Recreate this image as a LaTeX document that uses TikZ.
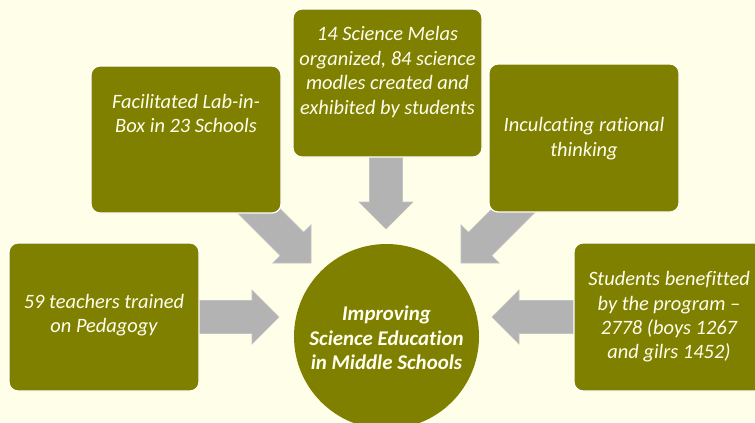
\documentclass[tikz,border=0pt]{standalone}
\usepackage{fontspec}
\setmainfont{Carlito}[Ligatures=CommonOff]
\usetikzlibrary{calc}
\definecolor{bgc}{RGB}{255,255,233}
\definecolor{olivec}{RGB}{128,128,0}
\definecolor{arrc}{RGB}{179,179,179}
\definecolor{txtc}{RGB}{255,255,240}
\tikzset{
  infobox/.style={fill=olivec,draw=white,line width=1.2bp,rounded corners=9bp},
  infotext/.style={text=txtc,align=center,font=\fontsize{20.5}{24.5}\selectfont\itshape,inner sep=0pt},
  hubtext/.style={text=txtc,align=center,font=\fontsize{21}{24.5}\selectfont\bfseries\itshape,inner sep=0pt},
  blockarrow/.style={fill=arrc,draw=arrc!80!white,line width=0.6bp}
}
\newcommand\blockarr[2]{%
  \path[blockarrow]
    ($(#1)!16.5bp!90:(#2)$) --
    ($($(#2)!27bp!(#1)$)!16.5bp!90:(#2)$) --
    ($($(#2)!27bp!(#1)$)!27bp!90:(#2)$) --
    (#2) --
    ($($(#2)!27bp!(#1)$)!27bp!-90:(#2)$) --
    ($($(#2)!27bp!(#1)$)!16.5bp!-90:(#2)$) --
    ($(#1)!16.5bp!-90:(#2)$) -- cycle;}
\begin{document}
\begin{tikzpicture}[x=1bp,y=-1bp]
\useasboundingbox (0,0) rectangle (755,422);
\clip (0,0) rectangle (755,422);
\fill[bgc] (0,0) rectangle (755,422);
% arrow coordinates
\coordinate (t1) at (230,182);
\coordinate (p1) at (311,263);
\coordinate (t2) at (386,157);
\coordinate (p2) at (386,229);
\coordinate (t3) at (542,182);
\coordinate (p3) at (461,263);
\coordinate (t4) at (199,317);
\coordinate (p4) at (279,317);
\coordinate (t5) at (574,317);
\coordinate (p5) at (492,317);
\blockarr{t1}{p1}
\blockarr{t2}{p2}
\blockarr{t3}{p3}
\blockarr{t4}{p4}
\blockarr{t5}{p5}
% boxes
\draw[infobox] (91,66) rectangle (281,213);
\draw[infobox] (293,9) rectangle (482,157);
\draw[infobox] (489,64) rectangle (679,212);
\draw[infobox] (9,243) rectangle (199,391);
\draw[infobox] (574,243) rectangle (764,391);
\node[circle,fill=olivec,minimum size=185bp,inner sep=0pt] (hub) at (386.5,336.5) {};
% texts
\node[infotext] (lab) at (186,113.5) {Facilitated Lab-in-\\Box in 23 Schools};
\node[infotext] (mela) at (387.5,72) {14 Science Melas\\organized, 84 science\\modles created and\\exhibited by students};
\node[infotext] (rat) at (584,138.5) {Inculcating rational\\thinking};
\node[infotext] (ped) at (104,315) {59 teachers trained\\on Pedagogy};
\node[infotext] (stu) at (669,317) {Students benefitted\\by the program –\\2778 (boys 1267\\and gilrs 1452)};
\node[hubtext] (hubtxt) at (386.5,338) {Improving\\Science Education\\in Middle Schools};
\end{tikzpicture}
\end{document}
